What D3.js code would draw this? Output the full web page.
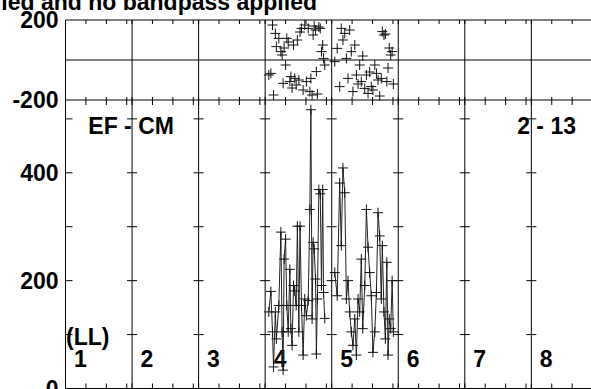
<!DOCTYPE html>
<html>
<head>
<meta charset="utf-8">
<script src="https://cdn.jsdelivr.net/npm/d3@7"></script>
<style>
  html, body { margin: 0; padding: 0; background: #fff; }
  svg { display: block; }
  text { font-family: "Liberation Sans", Arial, Helvetica, sans-serif; font-weight: bold; font-size: 23px; fill: #000; }
</style>
</head>
<body>
<svg id="chart" width="591" height="389"></svg>
<script>
// ---- data ----
const titleText = "Calibration applied and no bandpass applied";
const baselineLabels = ["1", "2", "3", "4", "5", "6", "7", "8"];
const panelHours = 3.26;                // time span of each baseline panel (hours)
const timeTicks = [0, 1, 2, 3];
const ampTicks = [100, 200, 300, 400, 500];
const ampLabels = [0, 200, 400];
const phaseLabels = [-200, 200];

// baseline 4 (index 3)
const times4 = [0.18,0.28,0.36,0.41,0.50,0.55,0.67,0.77,0.83,0.88,0.93,1.00,1.06,1.13,1.21,1.26,1.32,1.39,1.45,1.52,1.58,1.65,1.71,1.78,1.86,1.94,2.02,2.11,2.19,2.24,2.30,2.35,2.40,2.47,2.51,2.56,2.63,2.70,2.76,2.82,2.86,2.92];
const amp4 = [142,180,105,40,142,92,154,290,105,34,240,277,154,105,221,111,80,191,181,154,301,105,301,154,62,166,135,163,332,517,129,271,259,203,64,166,369,361,191,369,178,130];
const phase4 = [-75,-67,175,-175,133,67,108,42,25,-117,60,-25,108,90,-108,-83,-140,75,-92,-125,100,-100,140,158,-150,175,-108,158,-158,-92,-175,125,170,150,-58,-170,165,158,42,75,8,-25];

// baseline 5 (index 4)
const times5 = [0.15,0.27,0.39,0.47,0.55,0.64,0.72,0.80,0.88,0.96,1.04,1.13,1.21,1.29,1.37,1.45,1.52,1.62,1.70,1.78,1.86,1.94,2.02,2.11,2.19,2.27,2.35,2.43,2.48,2.56,2.63,2.70,2.76,2.82,2.89,2.96,3.02];
const amp5 = [215,172,381,265,409,363,166,200,142,105,80,129,62,166,142,240,111,191,332,262,215,172,67,105,178,326,283,166,265,142,92,234,62,129,111,200,105];
const phase5 = [-8,58,-133,158,100,133,8,-92,150,42,-158,75,-75,-120,-25,-108,20,-142,-75,-167,-60,-133,-150,-25,-67,-100,-180,-92,142,125,130,-108,-40,60,25,42,-120];

const series = [
  { panel: 3, times: times4, amp: amp4, phase: phase4 },
  { panel: 4, times: times5, amp: amp5, phase: phase5 }
];

// ---- layout ----
const svg = d3.select("#chart");
const x0 = 65.5, panelW = 66.55;
const nPanels = baselineLabels.length;
const x = d3.scaleLinear().domain([0, nPanels * panelHours]).range([x0, x0 + nPanels * panelW]);
const yPh = d3.scaleLinear().domain([-200, 200]).range([100, 20]);
const yAmp = d3.scaleLinear().domain([0, 535]).range([388.5, 100]);
const right = 600;

const g = svg.append("g").attr("stroke", "#000").attr("stroke-width", 1).attr("fill", "none");

// frame horizontal lines
[yPh(200), yPh(0), yPh(-200), yAmp(0)].forEach(y => {
  g.append("line").attr("x1", x0).attr("x2", right).attr("y1", y).attr("y2", y);
});
// panel separators
baselineLabels.forEach((b, i) => {
  const px = x(i * panelHours);
  g.append("line").attr("x1", px).attr("x2", px).attr("y1", yPh(200)).attr("y2", yAmp(0));
});

// time ticks
baselineLabels.forEach((b, i) => {
  timeTicks.forEach(t => {
    const tx = x(i * panelHours + t);
    g.append("line").attr("x1", tx).attr("x2", tx).attr("y1", yPh(200)).attr("y2", yPh(200) + 4);
    g.append("line").attr("x1", tx).attr("x2", tx).attr("y1", yPh(-200)).attr("y2", yPh(-200) - 3);
    g.append("line").attr("x1", tx).attr("x2", tx).attr("y1", yAmp.range()[1]).attr("y2", yAmp.range()[1] + 5);
    g.append("line").attr("x1", tx).attr("x2", tx).attr("y1", yAmp(0)).attr("y2", yAmp(0) - 5);
  });
});

// amplitude ticks on each panel edge
for (let i = 0; i <= nPanels; i++) {
  const px = x(i * panelHours);
  ampTicks.forEach(v => {
    const y = yAmp(v);
    if (i < nPanels) g.append("line").attr("x1", px).attr("x2", px + (i === 0 ? 7 : 5)).attr("y1", y).attr("y2", y);
    if (i > 0) g.append("line").attr("x1", px - 5).attr("x2", px).attr("y1", y).attr("y2", y);
  });
}

// axis labels
const lab = svg.append("g");
phaseLabels.forEach(v => lab.append("text").attr("x", 58.5).attr("y", yPh(v)).attr("dy", "0.36em").attr("text-anchor", "end").text(v));
ampLabels.forEach(v => lab.append("text").attr("x", 58.5).attr("y", yAmp(v)).attr("dy", "0.36em").attr("text-anchor", "end").text(v));

// title
lab.append("text").attr("x", 317).attr("y", 10).attr("text-anchor", "end").text(titleText);

// annotations
lab.append("text").attr("x", 88.3).attr("y", 134).text("EF - CM");
lab.append("text").attr("x", 576).attr("y", 134).attr("text-anchor", "end").text("2 - 13");
lab.append("text").attr("x", 66).attr("y", 344.5).text("(LL)");
baselineLabels.forEach((b, i) => {
  lab.append("text").attr("x", x(i * panelHours) + 8.5).attr("y", 366.5).text(b);
});

// data
const cross = 5;
series.forEach(s => {
  const pts = s.times.map((t, k) => ({ xv: s.panel * panelHours + t, a: s.amp[k], p: s.phase[k] }));
  const line = d3.line().x(d => x(d.xv)).y(d => yAmp(d.a));
  svg.append("path").datum(pts).attr("d", line).attr("fill", "none").attr("stroke", "#222").attr("stroke-width", 1);
  const crossPath = (cx, cy) => `M${cx - cross},${cy}H${cx + cross}M${cx},${cy - cross}V${cy + cross}`;
  svg.append("path").attr("fill", "none").attr("stroke", "#111").attr("stroke-width", 1)
    .attr("d", pts.map(d => crossPath(x(d.xv), yAmp(d.a))).join(""));
  svg.append("path").attr("fill", "none").attr("stroke", "#111").attr("stroke-width", 1)
    .attr("d", pts.map(d => crossPath(x(d.xv), yPh(d.p))).join(""));
});
</script>
</body>
</html>
